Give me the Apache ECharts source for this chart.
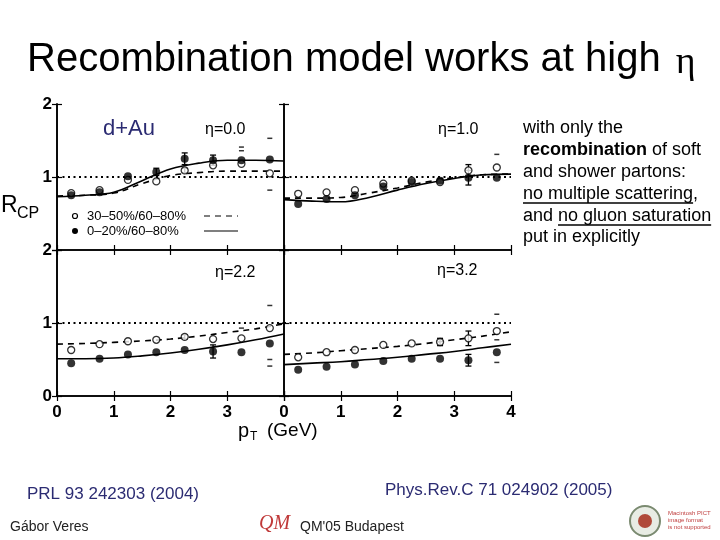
<!DOCTYPE html>
<html>
<head>
<meta charset="utf-8">
<script src="https://cdn.jsdelivr.net/npm/echarts@6/dist/echarts.min.js"></script>
<style>html,body{margin:0;padding:0;background:#fff}#main{width:720px;height:540px}</style>
</head>
<body>
<div id="main"></div>
<script>
// -------- data --------
var ptBins = [0.25, 0.75, 1.25, 1.75, 2.25, 2.75, 3.25, 3.75];   // p_T bin centres (GeV)
var curveX = [0, 0.5, 1, 1.5, 2, 2.5, 3, 3.5, 4];
var etaLabels = ['η=0.0', 'η=1.0', 'η=2.2', 'η=3.2'];
var xTickLabels = ['0', '1', '2', '3', '4'];
var yTickLabels = ['0', '1', '2'];

// 30-50%/60-80% (open circles)
var semiEta00 = [0.78, 0.82, 0.96, 0.94, 1.09, 1.16, 1.18, 1.05];
var semiEta10 = [0.77, 0.79, 0.82, 0.91, 0.95, 0.93, 1.09, 1.13];
var semiEta22 = [0.63, 0.71, 0.75, 0.77, 0.81, 0.78, 0.79, 0.93];
var semiEta32 = [0.53, 0.60, 0.63, 0.70, 0.72, 0.74, 0.79, 0.89];
// 0-20%/60-80% (filled circles)
var centEta00 = [0.75, 0.79, 1.01, 1.07, 1.25, 1.23, 1.23, 1.24];
var centEta10 = [0.63, 0.70, 0.75, 0.87, 0.93, 0.95, 0.99, 0.99];
var centEta22 = [0.45, 0.51, 0.57, 0.60, 0.63, 0.61, 0.60, 0.72];
var centEta32 = [0.36, 0.40, 0.43, 0.48, 0.51, 0.51, 0.49, 0.60];

// statistical errors (0 = not visible)
var semiErr00 = [0, 0, 0, 0, 0.03, 0, 0, 0];
var semiErr10 = [0, 0, 0, 0, 0, 0, 0.08, 0];
var semiErr22 = [0, 0, 0, 0, 0.03, 0, 0, 0];
var semiErr32 = [0, 0, 0, 0, 0, 0.05, 0.1, 0];
var centErr00 = [0, 0, 0, 0.05, 0.08, 0.07, 0, 0];
var centErr10 = [0, 0, 0, 0, 0, 0.03, 0.1, 0];
var centErr22 = [0, 0, 0, 0, 0, 0.09, 0, 0];
var centErr32 = [0, 0, 0, 0, 0, 0, 0.08, 0];

// systematic bracket marks [pT, R]
var sysEta00 = [[3.25, 1.41], [3.25, 1.36], [3.75, 1.53], [3.75, 0.82]];
var sysEta10 = [[3.75, 1.31]];
var sysEta22 = [[3.25, 0.93], [3.75, 1.24], [3.75, 0.50], [3.75, 0.41]];
var sysEta32 = [[3.75, 1.12], [3.75, 0.77], [3.75, 0.46]];

// recombination model curves
var solidEta00 = [0.73, 0.75, 0.79, 0.95, 1.11, 1.19, 1.23, 1.23, 1.22];
var dashEta00 = [0.74, 0.75, 0.78, 0.91, 1.02, 1.06, 1.08, 1.08, 1.08];
var solidEta10 = [0.69, 0.67, 0.66, 0.72, 0.82, 0.91, 0.98, 1.03, 1.04];
var dashEta10 = [0.71, 0.71, 0.72, 0.78, 0.85, 0.93, 0.99, 1.03, 1.04];
var solidEta22 = [0.51, 0.51, 0.52, 0.55, 0.59, 0.64, 0.70, 0.77, 0.85];
var dashEta22 = [0.71, 0.72, 0.735, 0.755, 0.78, 0.82, 0.87, 0.92, 0.99];
var solidEta32 = [0.43, 0.45, 0.47, 0.50, 0.53, 0.57, 0.61, 0.66, 0.71];
var dashEta32 = [0.57, 0.59, 0.62, 0.65, 0.68, 0.72, 0.77, 0.82, 0.88];

var semiAll = [semiEta00, semiEta10, semiEta22, semiEta32];
var centAll = [centEta00, centEta10, centEta22, centEta32];
var semiErrAll = [semiErr00, semiErr10, semiErr22, semiErr32];
var centErrAll = [centErr00, centErr10, centErr22, centErr32];
var sysAll = [sysEta00, sysEta10, sysEta22, sysEta32];
var solidAll = [solidEta00, solidEta10, solidEta22, solidEta32];
var dashAll = [dashEta00, dashEta10, dashEta22, dashEta32];

// -------- layout --------
var FONT = '"Liberation Sans", Arial, sans-serif';
var PW = 227, PH = 146;
var panels = [
  {left: 57, top: 104, xlab: false, ylab: true, hideY0: true},
  {left: 284, top: 104, xlab: false, ylab: false},
  {left: 57, top: 250, xlab: true, ylab: true, hideX4: true},
  {left: 284, top: 250, xlab: true, ylab: false}
];

function pairs(xs, ys) {
  return xs.map(function (x, i) { return [x, ys[i]]; });
}
function errBars(vals, errs) {
  var out = [];
  ptBins.forEach(function (x, i) {
    if (errs[i]) out.push([x, vals[i] - errs[i], vals[i] + errs[i]]);
  });
  return out;
}
function renderErr(params, api) {
  var x = api.value(0);
  var p1 = api.coord([x, api.value(2)]);
  var p2 = api.coord([x, api.value(1)]);
  var st = {stroke: '#000', lineWidth: 1.3};
  return {type: 'group', children: [
    {type: 'line', shape: {x1: p1[0], y1: p1[1], x2: p2[0], y2: p2[1]}, style: st},
    {type: 'line', shape: {x1: p1[0] - 3, y1: p1[1], x2: p1[0] + 3, y2: p1[1]}, style: st},
    {type: 'line', shape: {x1: p2[0] - 3, y1: p2[1], x2: p2[0] + 3, y2: p2[1]}, style: st}
  ]};
}

var grids = [], xAxes = [], yAxes = [], series = [];
var lineAx = {show: true, lineStyle: {color: '#000', width: 1.6}};
var tickIn = {show: true, inside: true, length: 5, lineStyle: {color: '#000', width: 1.2}};
var lblStyle = {color: '#000', fontWeight: 'bold', fontSize: 17, fontFamily: FONT};

panels.forEach(function (p, i) {
  grids.push({left: p.left, top: p.top, width: PW, height: PH});
  // bottom / top x axes
  xAxes.push({gridIndex: i, type: 'value', min: 0, max: 4, interval: 1, position: 'bottom',
    axisLine: lineAx, axisTick: tickIn, splitLine: {show: false},
    axisLabel: Object.assign({show: p.xlab, margin: 8, formatter: function (v) {
      return (p.hideX4 && v === 4) ? '' : xTickLabels[v];
    }}, lblStyle)});
  xAxes.push({gridIndex: i, type: 'value', min: 0, max: 4, interval: 1, position: 'top',
    axisLine: lineAx, axisTick: tickIn, splitLine: {show: false}, axisLabel: {show: false}});
  // left / right y axes
  yAxes.push({gridIndex: i, type: 'value', min: 0, max: 2, interval: 1, position: 'left',
    axisLine: lineAx, axisTick: tickIn, splitLine: {show: false},
    axisLabel: Object.assign({show: p.ylab, margin: 5, formatter: function (v) {
      return (p.hideY0 && v === 0) ? '' : yTickLabels[v];
    }}, lblStyle)});
  yAxes.push({gridIndex: i, type: 'value', min: 0, max: 2, interval: 1, position: 'right',
    axisLine: lineAx, axisTick: tickIn, splitLine: {show: false}, axisLabel: {show: false}});

  var xi = i * 2, yi = i * 2;
  // R = 1 reference
  series.push({type: 'line', xAxisIndex: xi, yAxisIndex: yi, data: [[0, 1], [4, 1]],
    symbol: 'none', silent: true, lineStyle: {color: '#000', width: 2, type: [2, 3.5]}, z: 1});
  // model curves
  series.push({type: 'line', xAxisIndex: xi, yAxisIndex: yi, data: pairs(curveX, dashAll[i]),
    smooth: 0.4, symbol: 'none', lineStyle: {color: '#000', width: 1.6, type: [6, 5]}, z: 3});
  series.push({type: 'line', xAxisIndex: xi, yAxisIndex: yi, data: pairs(curveX, solidAll[i]),
    smooth: 0.4, symbol: 'none', lineStyle: {color: '#000', width: 1.6}, z: 3});
  // error bars
  series.push({type: 'custom', xAxisIndex: xi, yAxisIndex: yi, renderItem: renderErr,
    encode: {x: 0, y: [1, 2]}, data: errBars(semiAll[i], semiErrAll[i]).concat(errBars(centAll[i], centErrAll[i])), z: 4});
  // systematic marks
  series.push({type: 'scatter', xAxisIndex: xi, yAxisIndex: yi, data: sysAll[i],
    symbol: 'rect', symbolSize: [5, 1.5], itemStyle: {color: '#000'}, z: 4});
  // data points
  series.push({type: 'scatter', xAxisIndex: xi, yAxisIndex: yi, data: pairs(ptBins, semiAll[i]),
    symbol: 'circle', symbolSize: 7, itemStyle: {color: '#fff', borderColor: '#000', borderWidth: 1.3}, z: 5});
  series.push({type: 'scatter', xAxisIndex: xi, yAxisIndex: yi, data: pairs(ptBins, centAll[i]),
    symbol: 'circle', symbolSize: 8, itemStyle: {color: '#000'}, z: 6});
});

// text width helper for underlines
var ctx = document.createElement('canvas').getContext('2d');
function textW(s, font) { ctx.font = font; return ctx.measureText(s).width; }
var sideFont = '18px ' + FONT;

var txt = function (x, y, text, style) {
  return {type: 'text', x: x, y: y, style: Object.assign({text: text, fill: '#000',
    font: '18px ' + FONT, textVerticalAlign: 'middle'}, style)};
};
var navy = '#2b2b72';
var etaPos = [[205, 130], [438, 130], [215, 273], [437, 271]];

var graphics = [
  // title
  {type: 'text', x: 27, y: 60, style: {
    text: '{a|Recombination model works at high }{e|η}',
    textVerticalAlign: 'middle',
    rich: {a: {fontSize: 40, fontFamily: FONT, color: '#000'},
           e: {fontSize: 38, fontFamily: '"Liberation Serif", serif', color: '#000', padding: [6, 0, 0, 4]}}
  }},
  txt(103, 129, 'd+Au', {font: '22px ' + FONT, fill: navy}),
  // R_CP
  txt(1, 206, 'R', {font: '23px ' + FONT}),
  txt(17, 214, 'CP', {font: '16px ' + FONT}),
  // p_T (GeV)
  txt(238, 431, 'p', {font: '20px ' + FONT}),
  txt(250, 437, 'T', {font: '12px ' + FONT}),
  txt(267, 431, '(GeV)', {font: '19px ' + FONT}),
  // legend
  {type: 'circle', shape: {cx: 75, cy: 216, r: 2.5}, style: {fill: '#fff', stroke: '#000', lineWidth: 1.2}},
  {type: 'circle', shape: {cx: 75, cy: 231, r: 3}, style: {fill: '#000'}},
  txt(87, 216, '30–50%/60–80%', {font: '13px ' + FONT}),
  txt(87, 231, '0–20%/60–80%', {font: '13px ' + FONT}),
  {type: 'line', shape: {x1: 204, y1: 216, x2: 238, y2: 216}, style: {stroke: '#000', lineWidth: 1.2, lineDash: [6, 5]}},
  {type: 'line', shape: {x1: 204, y1: 231, x2: 238, y2: 231}, style: {stroke: '#000', lineWidth: 1.2}},
  // right text block
  txt(523, 128, 'with only the', {font: sideFont}),
  {type: 'text', x: 523, y: 150, style: {text: '{b|recombination} of soft', textVerticalAlign: 'middle',
    rich: {b: {fontWeight: 'bold', fontSize: 18, fontFamily: FONT, color: '#000'}},
    fontSize: 18, fontFamily: FONT, fill: '#000'}},
  txt(523, 172, 'and shower partons:', {font: sideFont}),
  txt(523, 194, 'no multiple scattering,', {font: sideFont}),
  {type: 'line', shape: {x1: 523, y1: 203, x2: 523 + textW('no multiple scattering', sideFont), y2: 203},
    style: {stroke: '#000', lineWidth: 1.3}},
  txt(523, 216, 'and no gluon saturation', {font: sideFont}),
  {type: 'line', shape: {x1: 523 + textW('and ', sideFont), y1: 225, x2: 523 + textW('and no gluon saturation', sideFont), y2: 225},
    style: {stroke: '#000', lineWidth: 1.3}},
  txt(523, 237, 'put in explicitly', {font: sideFont}),
  // references and footer
  txt(27, 494, 'PRL 93 242303 (2004)', {font: '17px ' + FONT, fill: navy}),
  txt(385, 490, 'Phys.Rev.C 71 024902 (2005)', {font: '17px ' + FONT, fill: navy}),
  txt(10, 527, 'Gábor Veres', {font: '14px ' + FONT, fill: '#222'}),
  txt(300, 527, "QM'05 Budapest", {font: '14px ' + FONT, fill: '#222'}),
  txt(259, 524, 'QM', {font: 'italic 20px "Liberation Serif", serif', fill: '#c03a3a'}),
  {type: 'circle', shape: {cx: 645, cy: 521, r: 15}, style: {fill: '#e8ece4', stroke: '#7a8a70', lineWidth: 2}},
  {type: 'circle', shape: {cx: 645, cy: 521, r: 7}, style: {fill: '#b04a3a'}},
  txt(668, 513, 'Macintosh PICT', {font: '6px ' + FONT, fill: '#c04040'}),
  txt(668, 520, 'image format', {font: '6px ' + FONT, fill: '#c04040'}),
  txt(668, 527, 'is not supported', {font: '6px ' + FONT, fill: '#c04040'})
];
etaLabels.forEach(function (s, i) {
  graphics.push(txt(etaPos[i][0], etaPos[i][1], s, {font: '16px ' + FONT}));
});

var chart = echarts.init(document.getElementById('main'));
chart.setOption({
  backgroundColor: '#fff',
  animation: false,
  grid: grids,
  xAxis: xAxes,
  yAxis: yAxes,
  series: series,
  graphic: graphics
});
</script>
</body>
</html>
